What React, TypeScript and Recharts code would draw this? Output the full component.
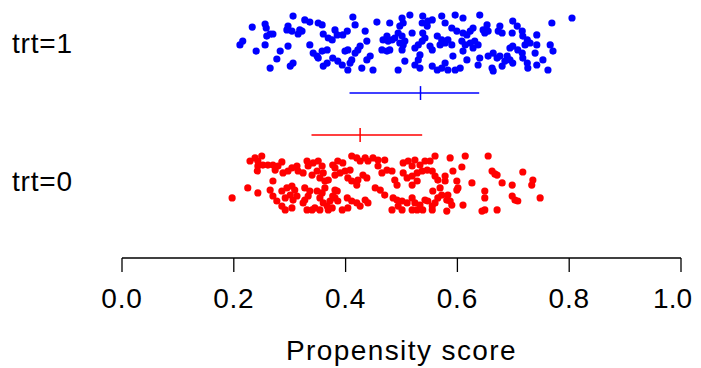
import React from "react";
import { ScatterChart, Scatter, XAxis, YAxis, ReferenceLine } from "recharts";

// [propensity score, vertical jitter]
const trt1Points: number[][] = [
  [0.306,0.194],[0.327,0.166],[0.336,0.151],[0.351,0.144],[0.358,0.130],[0.233,0.115],[0.256,0.137],[0.258,0.108],
  [0.297,0.122],[0.295,0.094],[0.304,0.086],[0.318,0.094],[0.315,0.065],[0.322,0.086],[0.265,0.065],[0.270,0.065],
  [0.259,0.050],[0.360,0.065],[0.369,0.036],[0.376,0.022],[0.385,0.058],[0.381,0.094],[0.395,0.058],[0.216,0.014],
  [0.211,-0.014],[0.256,-0.014],[0.297,-0.022],[0.336,-0.014],[0.240,-0.058],[0.283,-0.058],[0.342,-0.072],[0.349,-0.094],
  [0.358,-0.058],[0.367,-0.050],[0.351,-0.108],[0.277,-0.115],[0.377,-0.108],[0.386,-0.130],[0.394,-0.158],[0.367,-0.144],
  [0.360,-0.166],[0.306,-0.144],[0.301,-0.166],[0.265,-0.180],
  [0.413,0.187],[0.417,0.130],[0.403,0.086],[0.456,0.151],[0.435,0.086],[0.479,0.144],[0.501,0.180],[0.503,0.144],
  [0.497,0.122],[0.515,0.201],[0.538,0.194],[0.547,0.158],[0.537,0.144],[0.546,0.122],[0.555,0.166],[0.572,0.194],
  [0.578,0.144],[0.596,0.201],[0.590,0.108],[0.599,0.086],[0.519,0.072],[0.474,0.050],[0.467,0.022],[0.476,0.014],
  [0.483,0.022],[0.488,0.036],[0.494,0.072],[0.501,0.050],[0.506,0.014],[0.497,0.000],[0.503,-0.014],[0.538,0.072],
  [0.542,0.036],[0.537,0.014],[0.530,-0.014],[0.564,0.050],[0.572,0.022],[0.578,0.000],[0.569,-0.014],[0.583,0.022],
  [0.590,-0.014],[0.438,0.014],[0.426,-0.022],[0.422,-0.050],[0.417,-0.072],[0.404,-0.050],[0.399,-0.058],[0.465,-0.050],
  [0.474,-0.058],[0.479,-0.050],[0.501,-0.050],[0.524,-0.036],[0.551,-0.022],[0.555,-0.050],[0.444,-0.094],[0.438,-0.122],
  [0.411,-0.122],[0.408,-0.144],[0.533,-0.086],[0.530,-0.122],[0.592,-0.094],[0.506,-0.130],[0.404,-0.194],[0.429,-0.180],
  [0.449,-0.194],[0.494,-0.194],[0.524,-0.158],[0.533,-0.180],[0.555,-0.166],[0.564,-0.194],[0.572,-0.180],[0.583,-0.194],
  [0.596,-0.194],[0.578,-0.144],
  [0.640,0.201],[0.610,0.180],[0.653,0.130],[0.646,0.094],[0.655,0.086],[0.649,0.072],[0.628,0.108],[0.623,0.086],
  [0.617,0.058],[0.610,0.072],[0.676,0.122],[0.673,0.086],[0.680,0.072],[0.699,0.158],[0.707,0.122],[0.698,0.072],
  [0.716,0.086],[0.717,0.050],[0.742,0.058],[0.769,0.144],[0.805,0.180],[0.608,0.014],[0.614,-0.014],[0.623,0.000],
  [0.631,0.014],[0.637,-0.014],[0.628,-0.036],[0.610,-0.058],[0.725,0.022],[0.730,0.000],[0.721,-0.014],[0.742,-0.014],
  [0.766,-0.014],[0.694,-0.036],[0.699,-0.022],[0.708,-0.050],[0.716,-0.072],[0.771,-0.058],[0.739,-0.072],[0.664,-0.072],
  [0.655,-0.094],[0.671,-0.108],[0.676,-0.094],[0.689,-0.094],[0.694,-0.122],[0.685,-0.130],[0.699,-0.144],[0.717,-0.108],
  [0.725,-0.144],[0.726,-0.180],[0.617,-0.122],[0.640,-0.108],[0.637,-0.158],[0.753,-0.122],[0.742,-0.158],[0.662,-0.180],
  [0.664,-0.201],[0.680,-0.166],[0.762,-0.194],[0.605,-0.180],
];

const trt0Points: number[][] = [
  [0.229,0.151],[0.238,0.173],[0.243,0.151],[0.250,0.187],[0.243,0.115],[0.242,0.079],[0.252,0.122],[0.261,0.122],
  [0.270,0.122],[0.279,0.115],[0.286,0.144],[0.274,0.086],[0.288,0.065],[0.297,0.079],[0.304,0.101],[0.313,0.115],
  [0.315,0.079],[0.324,0.065],[0.333,0.115],[0.331,0.151],[0.342,0.137],[0.351,0.151],[0.358,0.115],[0.349,0.079],
  [0.340,0.050],[0.360,0.065],[0.354,0.029],[0.363,0.007],[0.369,0.014],[0.381,0.050],[0.377,0.122],[0.270,0.007],
  [0.225,-0.043],[0.243,-0.079],[0.197,-0.115],[0.265,-0.058],[0.270,-0.101],[0.277,-0.137],[0.286,-0.173],[0.292,-0.201],
  [0.304,-0.187],[0.286,-0.065],[0.295,-0.043],[0.304,-0.029],[0.309,-0.058],[0.301,-0.094],[0.292,-0.115],[0.306,-0.130],
  [0.313,-0.101],[0.327,-0.043],[0.336,-0.065],[0.333,-0.101],[0.327,-0.130],[0.324,-0.151],[0.349,-0.065],[0.358,-0.079],
  [0.363,-0.043],[0.354,-0.115],[0.360,-0.151],[0.367,-0.173],[0.372,-0.137],[0.377,-0.101],[0.381,-0.058],[0.331,-0.201],
  [0.340,-0.201],[0.345,-0.187],[0.354,-0.201],[0.369,-0.201],[0.376,-0.187],
  [0.386,0.151],[0.395,0.137],[0.381,0.101],[0.411,0.187],[0.420,0.173],[0.426,0.151],[0.435,0.173],[0.440,0.151],
  [0.449,0.173],[0.458,0.158],[0.470,0.158],[0.399,0.079],[0.408,0.086],[0.390,0.065],[0.404,0.029],[0.411,0.007],
  [0.422,0.014],[0.431,0.050],[0.438,0.029],[0.420,-0.022],[0.458,0.115],[0.465,0.065],[0.474,0.086],[0.483,0.079],
  [0.488,0.014],[0.492,-0.022],[0.503,0.137],[0.512,0.151],[0.519,0.115],[0.524,0.158],[0.533,0.122],[0.542,0.151],
  [0.551,0.151],[0.560,0.187],[0.503,0.065],[0.510,0.029],[0.519,0.043],[0.528,0.065],[0.537,0.079],[0.546,0.086],
  [0.555,0.079],[0.560,0.043],[0.565,0.014],[0.528,0.007],[0.519,-0.022],[0.453,-0.043],[0.462,-0.058],[0.470,-0.094],
  [0.385,-0.065],[0.381,-0.115],[0.386,-0.137],[0.403,-0.115],[0.411,-0.137],[0.420,-0.151],[0.426,-0.173],[0.404,-0.187],
  [0.435,-0.130],[0.440,-0.151],[0.485,-0.115],[0.492,-0.130],[0.501,-0.137],[0.494,-0.173],[0.510,-0.151],[0.519,-0.115],
  [0.524,-0.151],[0.533,-0.166],[0.542,-0.130],[0.547,-0.137],[0.555,-0.173],[0.560,-0.151],[0.565,-0.115],[0.572,-0.094],
  [0.569,-0.043],[0.556,-0.065],[0.483,-0.201],[0.501,-0.201],[0.519,-0.201],[0.528,-0.201],[0.538,-0.201],[0.555,-0.201],
  [0.394,-0.201],
  [0.587,0.173],[0.614,0.187],[0.655,0.187],[0.592,0.079],[0.608,0.108],[0.578,0.043],[0.578,0.007],[0.599,0.007],
  [0.601,-0.043],[0.599,-0.058],[0.626,-0.007],[0.662,0.079],[0.667,0.058],[0.671,0.050],[0.680,-0.007],[0.698,-0.022],
  [0.717,0.072],[0.735,0.014],[0.733,-0.022],[0.649,-0.065],[0.649,-0.115],[0.698,-0.101],[0.703,-0.130],[0.708,-0.137],
  [0.748,-0.115],[0.583,-0.094],[0.581,-0.130],[0.587,-0.137],[0.590,-0.166],[0.610,-0.166],[0.649,-0.201],[0.644,-0.209],
  [0.671,-0.201],[0.581,-0.209],
];

const groupLabels = ["trt=0", "trt=1"];
const groupLevels = [0, 1];
const groupMean = [0.426, 0.534];
const groupLow = [0.339, 0.407];
const groupHigh = [0.537, 0.639];
const xTicks = [0, 0.2, 0.4, 0.6, 0.8, 1.0];

const BLUE = "#0000FF";
const RED = "#FF0000";
const FONT = "'Liberation Sans', Arial, sans-serif";

const data1 = trt1Points.map(([x, j]) => ({ x, y: groupLevels[1] + j }));
const data0 = trt0Points.map(([x, j]) => ({ x, y: groupLevels[0] + j }));

// vertical placement of the summary segments relative to each group
const segY = [groupLevels[0] + 0.338, groupLevels[1] - 0.36];
const tickHalf = 0.05;

const Dot = (color: string) => (props: any) =>
  <circle cx={props.cx} cy={props.cy} r={3.6} fill={color} />;

const YTick = (props: any) => {
  const { y, payload } = props;
  return (
    <text x={12} y={y} textAnchor="start" dominantBaseline="central" fontSize={28} letterSpacing={0.8} fontFamily={FONT} fill="#000">
      {groupLabels[groupLevels.indexOf(payload.value)]}
    </text>
  );
};

const XTick = (props: any) => {
  const { x, y, payload, index } = props;
  const last = index === xTicks.length - 1;
  return (
    <text
      x={last ? x + 11 : x}
      y={y}
      dy="0.71em"
      textAnchor={last ? "end" : "middle"}
      fontSize={28}
      letterSpacing={last ? 0 : 0.8}
      fontFamily={FONT}
      fill="#000"
    >
      {Number(payload.value).toFixed(1)}
    </text>
  );
};

export default function App() {
  const colors = [RED, BLUE];
  return (
    <div style={{ margin: "-8px 0 0 -8px", width: 701, height: 368 }}>
      <ScatterChart width={701} height={368} margin={{ top: 8, right: 20, bottom: 0, left: 0 }}>
        <XAxis
          type="number"
          dataKey="x"
          domain={[0, 1]}
          ticks={xTicks}
          axisLine={{ stroke: "#000", strokeWidth: 1.3 }}
          tickLine={{ stroke: "#000", strokeWidth: 1.3 }}
          tickSize={14}
          tickMargin={16}
          height={110}
          tick={<XTick />}
          interval={0}
          label={{ value: "Propensity score", position: "insideBottom", offset: 8, fontSize: 28, fontFamily: FONT, fill: "#000", letterSpacing: 1.4 }}
        />
        <YAxis
          type="number"
          dataKey="y"
          domain={[-0.547, 1.252]}
          ticks={groupLevels}
          axisLine={false}
          tickLine={false}
          width={122}
          tick={<YTick />}
        />
        <Scatter data={data0} fill={RED} shape={Dot(RED)} isAnimationActive={false} />
        <Scatter data={data1} fill={BLUE} shape={Dot(BLUE)} isAnimationActive={false} />
        {groupLevels.map((g, i) => (
          <ReferenceLine
            key={"h" + g}
            segment={[{ x: groupLow[i], y: segY[i] }, { x: groupHigh[i], y: segY[i] }]}
            stroke={colors[i]}
            strokeWidth={1.5}
          />
        ))}
        {groupLevels.map((g, i) => (
          <ReferenceLine
            key={"v" + g}
            segment={[{ x: groupMean[i], y: segY[i] - tickHalf }, { x: groupMean[i], y: segY[i] + tickHalf }]}
            stroke={colors[i]}
            strokeWidth={1.5}
          />
        ))}
      </ScatterChart>
    </div>
  );
}
